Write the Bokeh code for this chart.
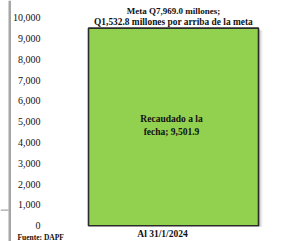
from bokeh.plotting import figure
from bokeh.models import Range1d, BoxAnnotation, ColumnDataSource
from bokeh.core.properties import value
from bokeh.embed import file_html
from bokeh.resources import INLINE

# ---- data ----
categories = ["Al 31/1/2024"]
recaudado = [9501.9]
meta_label_1 = ["Meta Q7,969.0 millones;"]
meta_label_2 = ["Q1,532.8 millones por arriba de la meta"]
inner_label_1 = ["Recaudado a la"]
inner_label_2 = ["fecha; 9,501.9"]
y_ticks = [0, 1000, 2000, 3000, 4000, 5000, 6000, 7000, 8000, 9000, 10000]
y_tick_labels = ["0", "1,000", "2,000", "3,000", "4,000", "5,000",
                 "6,000", "7,000", "8,000", "9,000", "10,000"]
source_note = "Fuente: DAPF"

# ---- layout constants ----
W, H = 305, 241
PX_PER_UNIT_X = 170.0          # bar width in px (bar width = 1 unit)
BAR_CENTER_PX = 173.0
PX_PER_1000 = 20.79
ZERO_PX_FROM_TOP = 225.2

x_start = -BAR_CENTER_PX / PX_PER_UNIT_X
x_end = x_start + W / PX_PER_UNIT_X
y_end = ZERO_PX_FROM_TOP / PX_PER_1000 * 1000
y_start = -(H - ZERO_PX_FROM_TOP) / PX_PER_1000 * 1000

FONT = value("Liberation Serif")

p = figure(width=W, height=H, output_backend="svg", toolbar_location=None,
           x_range=Range1d(x_start, x_end), y_range=Range1d(y_start, y_end),
           min_border=0, min_border_left=0, min_border_right=0,
           min_border_top=0, min_border_bottom=0)
p.xaxis.visible = False
p.yaxis.visible = False
p.xgrid.visible = False
p.ygrid.visible = False
p.outline_line_color = None
p.background_fill_color = "white"
p.border_fill_color = "white"

xs = list(range(len(categories)))
src = ColumnDataSource(dict(x=xs, cat=categories, v=recaudado,
                            zero=[0] * len(xs),
                            half=[v / 2 for v in recaudado],
                            m1=meta_label_1, m2=meta_label_2,
                            i1=inner_label_1, i2=inner_label_2))

# shadow (style offsets)
sh_dx = 1 / PX_PER_UNIT_X
sh_dy = 1000 / PX_PER_1000
for k, alpha in enumerate([0.45, 0.3, 0.18, 0.08]):
    p.quad(left=[x + 0.5 + k * sh_dx for x in xs],
           right=[x + 0.5 + (k + 1) * sh_dx for x in xs],
           top=[v - 2 * sh_dy for v in recaudado],
           bottom=[0 - 1 * sh_dy for _ in xs],
           fill_color="#606060", fill_alpha=alpha, line_color=None)

# bar
p.vbar(x="x", top="v", bottom=0, width=1.0, source=src,
       fill_color="#92D050", line_color="#2b2b2b", line_width=1.6)

# chart-area border pieces at left edge
p.add_layout(BoxAnnotation(left=8, right=10.5, left_units="screen", right_units="screen",
                           fill_color="#a6a6a6", fill_alpha=1.0, line_color=None))
p.add_layout(BoxAnnotation(left=0, right=8, top=32, bottom=30.8,
                           left_units="screen", right_units="screen",
                           top_units="screen", bottom_units="screen",
                           fill_color="#a6a6a6", fill_alpha=1.0, line_color=None))

# tick labels
p.text(x=[x_start] * len(y_ticks), y=y_ticks, text=y_tick_labels,
       x_offset=40, text_align="right", text_baseline="middle",
       text_font=FONT, text_font_size="10px", text_color="#111111")

# labels above bar
p.text(x="x", y="v", text="m1", source=src, x_offset=0, y_offset=-17.5,
       text_align="center", text_baseline="middle", text_font=FONT,
       text_font_size="9px", text_font_style="bold", text_color="#111111")
p.text(x="x", y="v", text="m2", source=src, x_offset=0, y_offset=-6.5,
       text_align="center", text_baseline="middle", text_font=FONT,
       text_font_size="9.4px", text_font_style="bold", text_color="#111111")

# labels inside bar
p.text(x="x", y="half", text="i1", source=src, x_offset=-2, y_offset=-8,
       text_align="center", text_baseline="middle", text_font=FONT,
       text_font_size="9.5px", text_font_style="bold", text_color="#111111")
p.text(x="x", y="half", text="i2", source=src, x_offset=-2, y_offset=5.5,
       text_align="center", text_baseline="middle", text_font=FONT,
       text_font_size="9.5px", text_font_style="bold", text_color="#111111")

# category label
p.text(x="x", y="zero", text="cat", source=src, x_offset=-11, y_offset=8.5,
       text_align="center", text_baseline="middle", text_font=FONT,
       text_font_size="9.5px", text_font_style="bold", text_color="#111111")

# source note
p.text(x=[x_start], y=[0], text=[source_note], x_offset=17, y_offset=11.5,
       text_align="left", text_baseline="middle", text_font=FONT,
       text_font_size="7.5px", text_font_style="bold", text_color="#111111")

open("out.html", "w").write(file_html(p, INLINE))
